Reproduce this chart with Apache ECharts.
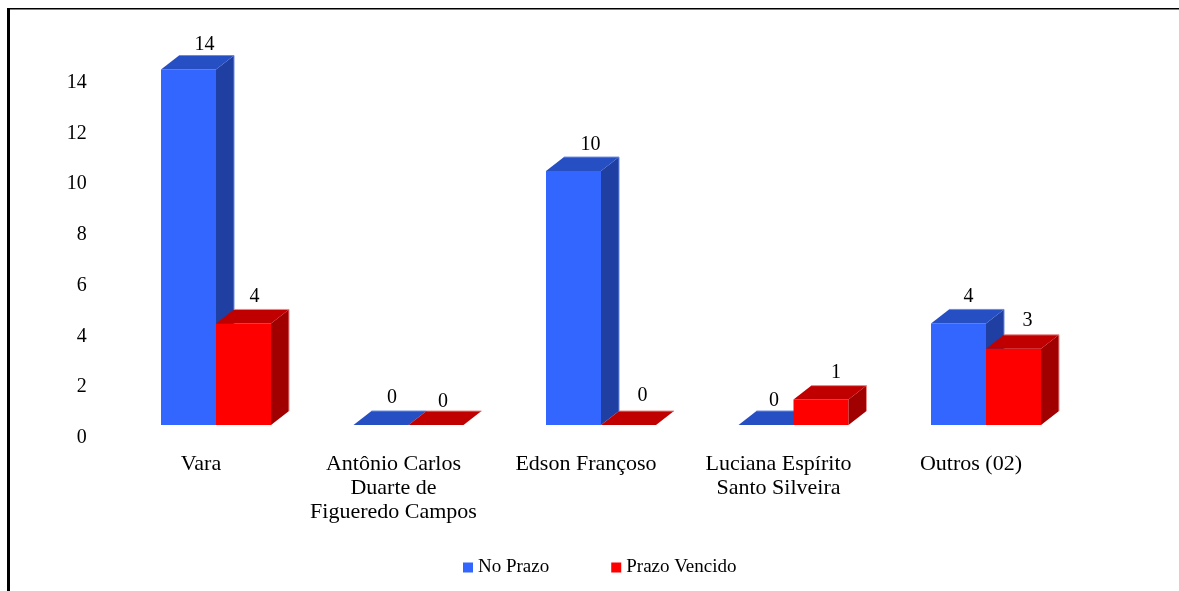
<!DOCTYPE html>
<html>
<head>
<meta charset="utf-8">
<style>html,body{margin:0;padding:0;background:#fff}#c{width:1179px;height:591px}</style>
<script src="https://cdn.jsdelivr.net/npm/echarts@6/dist/echarts.min.js"></script>
</head>
<body>
<div id="c"></div>
<script>
const categories = ['Vara', 'Antônio Carlos\nDuarte de\nFiguered' + 'o Campos', 'Edson Françoso', 'Luciana Espírito\nSanto Silveira', 'Outros (02)'];
const noPrazo = [14, 0, 10, 0, 4];
const prazoVencido = [4, 0, 0, 1, 3];
const yTicks = [0, 14, 2];

const FONT = '"Liberation Serif","Times New Roman",serif';
const DX = 18, DY = 14;
const palette = {
  blue: {front: '#3366FF', top: '#264FC4', side: '#1F3FA3', edge: '#6A8AE0'},
  red: {front: '#FF0000', top: '#C00000', side: '#A00000', edge: '#E88A8A'}
};
// hand-placed value labels in the source: small per-label offsets from the bar's top
const labelShift = {
  blue: [[16, -11], [11, -13], [17, -12], [8, -10], [10, -13]],
  red: [[11, -13], [7, -9], [14, -15], [15, -13], [14, -14]]
};

function bar3d(side, pal, shift) {
  return function (params, api) {
    const idx = api.value(0), val = api.value(1);
    const band = api.size([1, 0])[0];
    const w = band * 0.2857;
    const c0 = api.coord([idx, 0]);
    const c1 = api.coord([idx, val]);
    const x0 = c0[0] + (side < 0 ? -w : 0), x1 = x0 + w;
    const yb = c0[1], yt = c1[1];
    const poly = (pts, fill) => ({type: 'polygon', shape: {points: pts}, style: {fill: fill}});
    const children = [];
    if (val > 0) {
      children.push({type: 'rect', shape: {x: x0, y: yt, width: w, height: yb - yt}, style: {fill: pal.front}});
      children.push(poly([[x1, yb], [x1 + DX, yb - DY], [x1 + DX, yt - DY], [x1, yt]], pal.side));
    }
    children.push(poly([[x0, yt], [x0 + DX, yt - DY], [x1 + DX, yt - DY], [x1, yt]], pal.top));
    children.push({type: 'polyline', shape: {points: val > 0
        ? [[x0 + DX, yt - DY], [x1 + DX, yt - DY], [x1 + DX, yb - DY]]
        : [[x0 + DX, yt - DY], [x1 + DX, yt - DY]]},
      style: {stroke: pal.edge, lineWidth: 1, fill: null}});
    children.push({type: 'text', style: {
      text: String(val), x: (x0 + x1) / 2 + shift[idx][0], y: yt - DY + shift[idx][1],
      align: 'center', verticalAlign: 'middle', fill: '#000', font: '20px ' + FONT
    }});
    return {type: 'group', children: children};
  };
}

const toData = arr => arr.map((v, i) => [i, v]);
const chart = echarts.init(document.getElementById('c'), null, {renderer: 'canvas'});
chart.setOption({
  animation: false,
  backgroundColor: '#fff',
  grid: {left: 119.75, right: 96.75, top: 69.5, bottom: 166},
  legend: {
    left: 458, top: 553, icon: 'rect', itemWidth: 10, itemHeight: 10, itemGap: 62,
    textStyle: {fontFamily: FONT, fontSize: 19, color: '#000'},
    data: ['No Prazo', 'Prazo Vencido']
  },
  xAxis: {
    type: 'category', data: categories,
    axisLine: {show: false}, axisTick: {show: false},
    axisLabel: {interval: 0, margin: 27, fontFamily: FONT, fontSize: 22, lineHeight: 24, color: '#000', padding: [0, 30, 0, 0]}
  },
  yAxis: {
    type: 'value', min: yTicks[0], max: yTicks[1], interval: yTicks[2],
    axisLine: {show: false}, axisTick: {show: false}, splitLine: {show: false},
    axisLabel: {margin: 33, fontFamily: FONT, fontSize: 20, lineHeight: 26, verticalAlign: 'top', color: '#000'}
  },
  series: [
    {name: 'No Prazo', type: 'custom', renderItem: bar3d(-1, palette.blue, labelShift.blue), data: toData(noPrazo),
     encode: {x: 0, y: 1}, itemStyle: {color: palette.blue.front}, clip: false, z: 2},
    {name: 'Prazo Vencido', type: 'custom', renderItem: bar3d(1, palette.red, labelShift.red), data: toData(prazoVencido),
     encode: {x: 0, y: 1}, itemStyle: {color: palette.red.front}, clip: false, z: 3}
  ],
  graphic: [
    {type: 'rect', shape: {x: 7, y: 8, width: 3, height: 583}, style: {fill: '#000'}},
    {type: 'rect', shape: {x: 7, y: 8, width: 1172, height: 1.5}, style: {fill: '#000'}}
  ]
});
</script>
</body>
</html>
